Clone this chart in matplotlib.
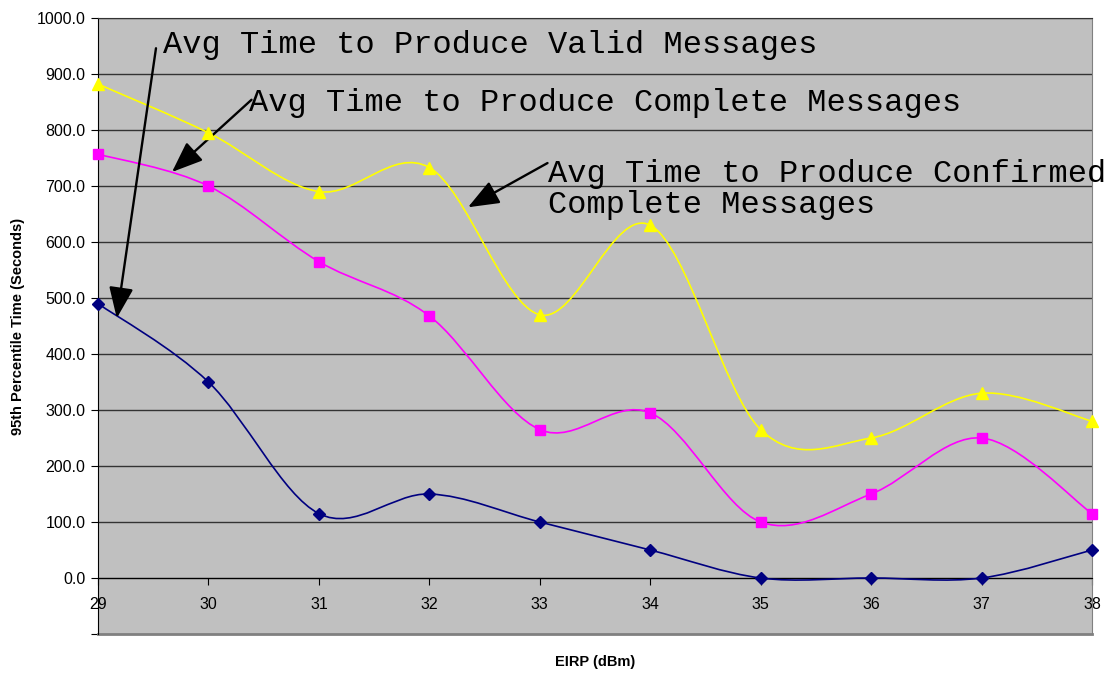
import matplotlib
matplotlib.use("Agg")
import matplotlib.pyplot as plt
from matplotlib.path import Path
from matplotlib.patches import PathPatch

# data
eirp = [29, 30, 31, 32, 33, 34, 35, 36, 37, 38]
valid = [490, 350, 115, 150, 100, 50, 0, 0, 0, 50]
complete = [757, 700, 565, 468, 265, 295, 100, 150, 250, 115]
confirmed = [882, 795, 690, 733, 470, 630, 265, 250, 330, 280]
yticks = [-100, 0, 100, 200, 300, 400, 500, 600, 700, 800, 900, 1000]


def smooth_path(xs, ys):
    # Excel-like smoothed line: cubic bezier through points (Catmull-Rom)
    pts = list(zip(xs, ys))
    verts = [pts[0]]
    codes = [Path.MOVETO]
    n = len(pts)
    for i in range(n - 1):
        p0 = pts[i - 1] if i > 0 else pts[i]
        p1 = pts[i]
        p2 = pts[i + 1]
        p3 = pts[i + 2] if i + 2 < n else pts[i + 1]
        c1 = (p1[0] + (p2[0] - p0[0]) / 6, p1[1] + (p2[1] - p0[1]) / 6)
        c2 = (p2[0] - (p3[0] - p1[0]) / 6, p2[1] - (p3[1] - p1[1]) / 6)
        verts += [c1, c2, p2]
        codes += [Path.CURVE4] * 3
    return Path(verts, codes)


fig = plt.figure(figsize=(11.09, 6.76), dpi=100)
ax = fig.add_axes([98 / 1109, 42 / 676, 994 / 1109, 616 / 676])
ax.set_facecolor("#C0C0C0")

series = [
    (valid, "#000080", "D", 6),
    (complete, "#FF00FF", "s", 7),
    (confirmed, "#FFFF00", "^", 8),
]
for vals, col, mk, ms in series:
    ax.add_patch(PathPatch(smooth_path(eirp, vals), facecolor="none",
                           edgecolor=col, lw=1.2, zorder=3, clip_on=False))
    ax.plot(eirp, vals, ls="none", marker=mk, color=col, ms=ms, zorder=4,
            clip_on=False)

ax.set_xlim(29, 38)
ax.set_ylim(-100, 1000)
ax.set_yticks(yticks)
ax.set_yticklabels(["" if v < 0 else f"{v:.1f}" for v in yticks])
for v in yticks[1:]:
    ax.axhline(v, color="#333333", lw=1, zorder=1)

ax.set_xticks(eirp)
ax.spines["bottom"].set_position(("data", 0))
ax.spines["bottom"].set_color("black")
ax.spines["left"].set_color("black")
ax.spines["right"].set_color("#808080")
ax.spines["top"].set_color("#333333")
ax.axhline(-100, color="#808080", lw=2, zorder=2, clip_on=False)
ax.tick_params(axis="x", direction="out", length=5, pad=9,
               labelsize=11.5, color="black")
ax.tick_params(axis="y", direction="out", length=5, pad=4,
               labelsize=11.5, color="black")

for lbl in ax.get_xticklabels() + ax.get_yticklabels():
    lbl.set_fontfamily("Liberation Sans")

fig.text(18 / 1109, 1 - 326 / 676, "95th Percentile Time (Seconds)",
         rotation=90, ha="center", va="center", fontsize=10.5,
         fontweight="bold", family="Liberation Sans")
fig.text(595 / 1109, 1 - 662 / 676, "EIRP (dBm)", ha="center",
         va="center", fontsize=10.5, fontweight="bold",
         family="Liberation Sans")

arrow = dict(arrowstyle="-|>,head_length=1.9,head_width=0.75",
             color="black", lw=1.7, shrinkA=0, shrinkB=0)
note_font = dict(family="Liberation Mono", fontsize=23, color="black")

ax.annotate("", xy=(29.17, 464), xytext=(29.525, 946), arrowprops=arrow)
ax.text(29.59, 952, "Avg Time to Produce Valid Messages", va="center",
        ha="left", **note_font)

ax.annotate("", xy=(29.67, 725), xytext=(30.39, 854), arrowprops=arrow)
ax.text(30.37, 848, "Avg Time to Produce Complete Messages", va="center",
        ha="left", **note_font)

ax.annotate("", xy=(32.35, 662), xytext=(33.07, 741), arrowprops=arrow)
ax.text(33.07, 693, "Avg Time to Produce Confirmed\nComplete Messages",
        va="center", ha="left", linespacing=1.05, **note_font)

fig.savefig("out.png", dpi=100)
